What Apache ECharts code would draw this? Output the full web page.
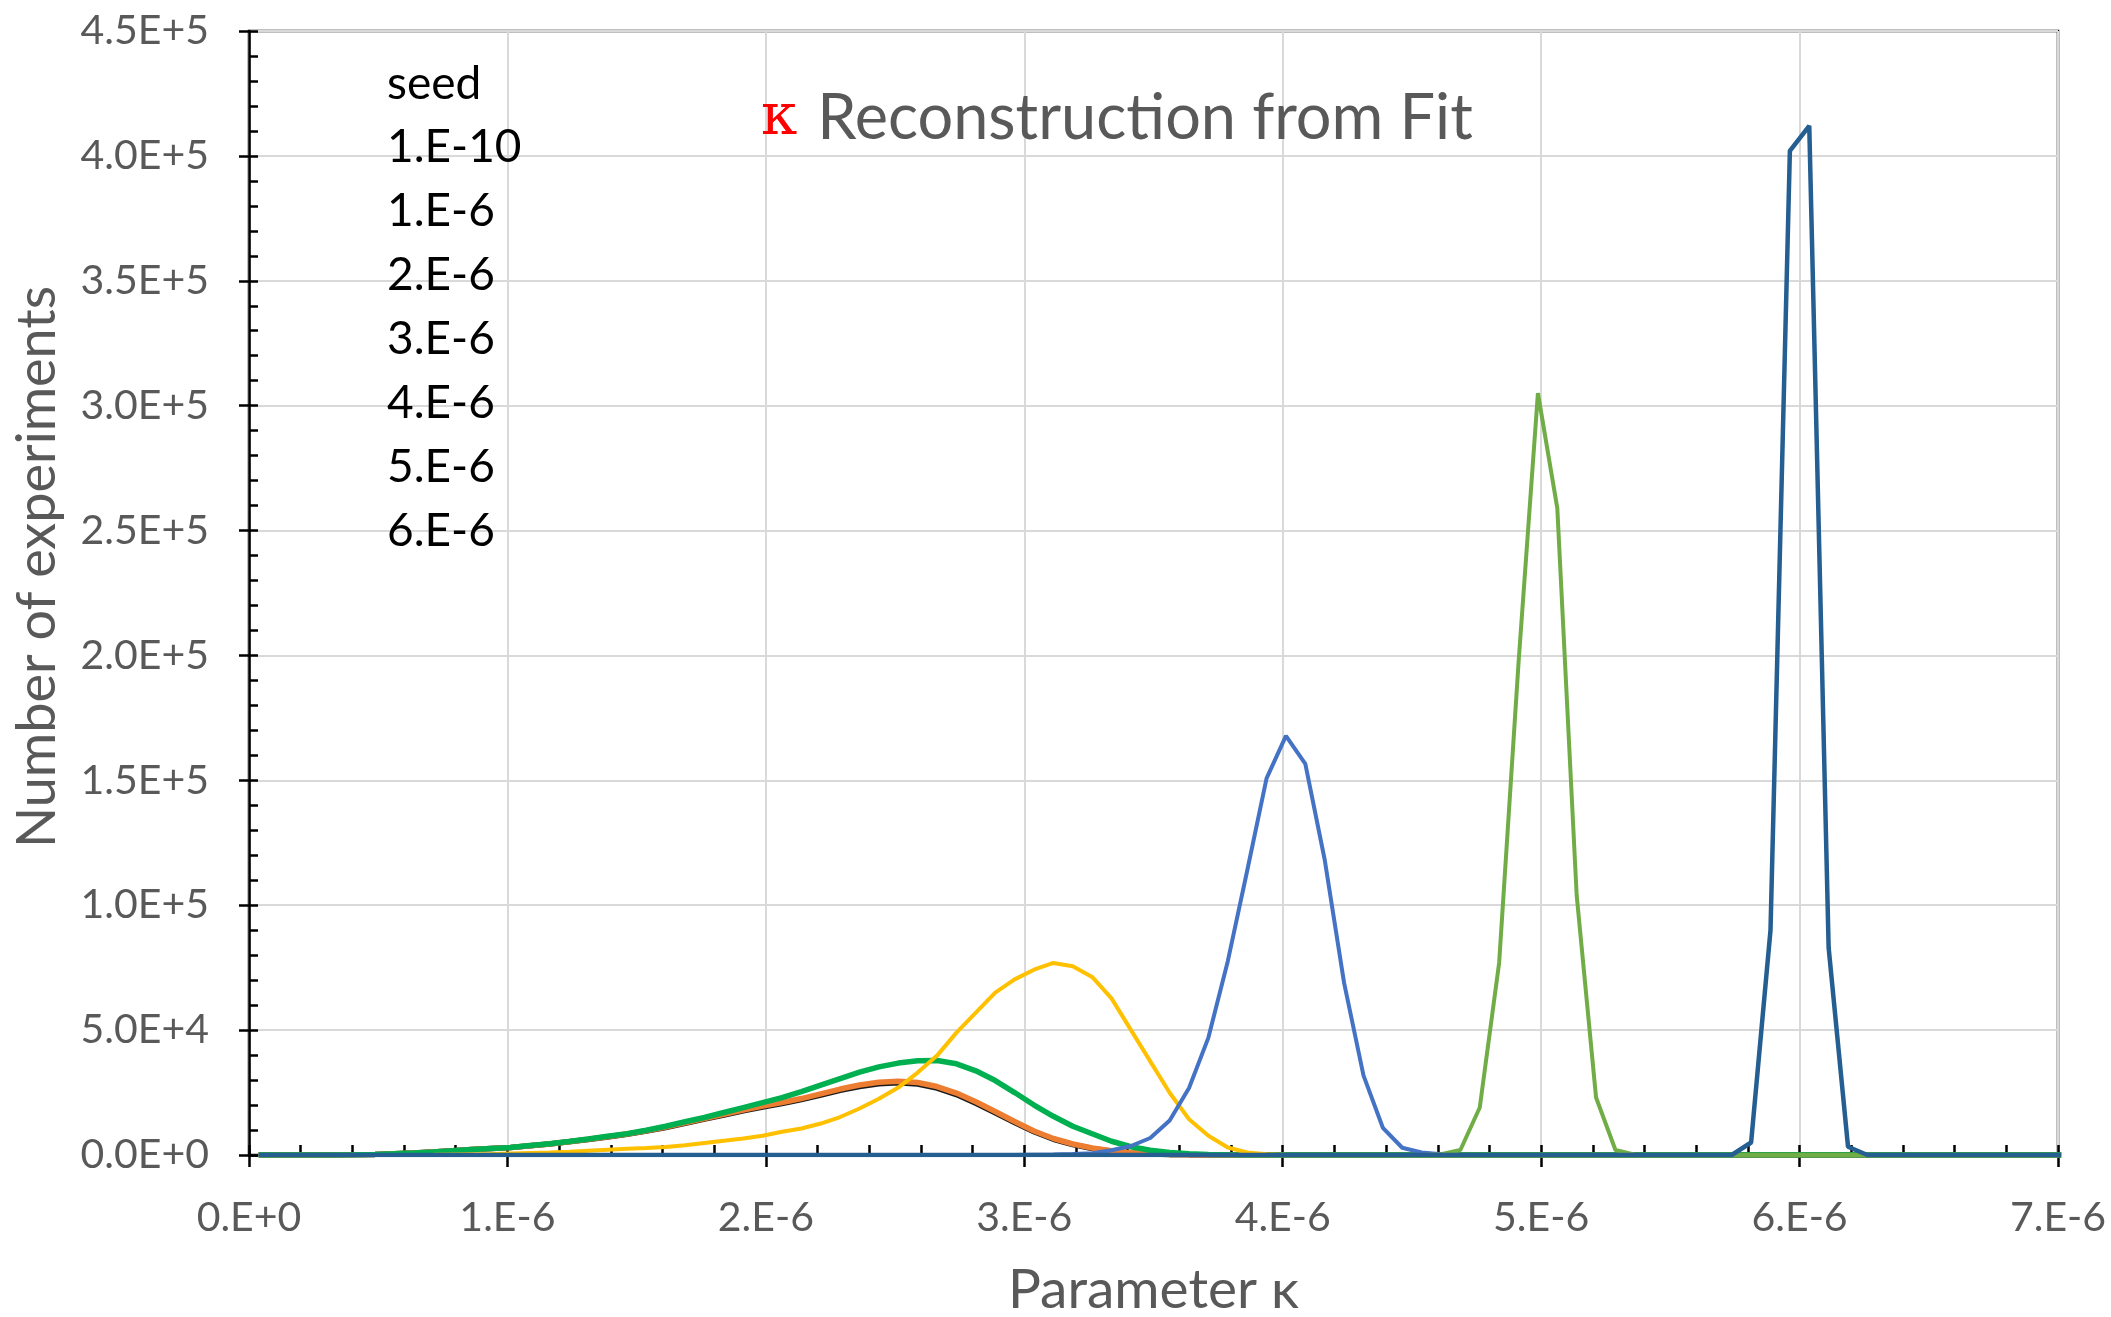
<!DOCTYPE html>
<html>
<head>
<meta charset="utf-8">
<script src="https://cdn.jsdelivr.net/npm/echarts@6/dist/echarts.min.js"></script>
<style>
  html, body { margin: 0; padding: 0; background: #ffffff; }
  #chart { width: 2111px; height: 1317px; }
</style>
</head>
<body>
<div id="chart"></div>
<script>
// Bin centres of parameter kappa, in units of 1E-6
const kappa = [
  0.0375, 0.1125, 0.1875, 0.2625, 0.3375, 0.4125, 0.4875, 0.5625, 0.6375, 0.7125,
  0.7875, 0.8625, 0.9375, 1.0125, 1.0875, 1.1625, 1.2375, 1.3125, 1.3875, 1.4625,
  1.5375, 1.6125, 1.6875, 1.7625, 1.8375, 1.9125, 1.9875, 2.0625, 2.1375, 2.2125,
  2.2875, 2.3625, 2.4375, 2.5125, 2.5875, 2.6625, 2.7375, 2.8125, 2.8875, 2.9625,
  3.0375, 3.1125, 3.1875, 3.2625, 3.3375, 3.4125, 3.4875, 3.5625, 3.6375, 3.7125,
  3.7875, 3.8625, 3.9375, 4.0125, 4.0875, 4.1625, 4.2375, 4.3125, 4.3875, 4.4625,
  4.5375, 4.6125, 4.6875, 4.7625, 4.8375, 4.9125, 4.9875, 5.0625, 5.1375, 5.2125,
  5.2875, 5.3625, 5.4375, 5.5125, 5.5875, 5.6625, 5.7375, 5.8125, 5.8875, 5.9625,
  6.0375, 6.1125, 6.1875, 6.2625, 6.3375, 6.4125, 6.4875, 6.5625, 6.6375, 6.7125,
  6.7875, 6.8625, 6.9375, 7.0125
];

const seedNames = ['1.E-10', '1.E-6', '2.E-6', '3.E-6', '4.E-6', '5.E-6', '6.E-6'];
const xTickLabels = ['0.E+0', '1.E-6', '2.E-6', '3.E-6', '4.E-6', '5.E-6', '6.E-6', '7.E-6'];
const yTickLabels = ['0.0E+0', '5.0E+4', '1.0E+5', '1.5E+5', '2.0E+5', '2.5E+5', '3.0E+5', '3.5E+5', '4.0E+5', '4.5E+5'];

// Number of experiments per bin, one array per seed (aligned with kappa)
const seed1e10 = [
  0, 0, 0, 0, 0, 100, 250, 500, 800, 1200,
  1700, 2200, 2600, 3000, 3700, 4400, 5300, 6200, 7200, 8300,
  9600, 11000, 12700, 14400, 16000, 17700, 19200, 20600, 22200, 24000,
  25900, 27400, 28500, 28900, 28400, 26800, 24200, 20700, 16900, 13000,
  9300, 6300, 4200, 2600, 1500, 800, 400, 150, 50, 0,
  0, 0, 0, 0, 0, 0, 0, 0, 0, 0,
  0, 0, 0, 0, 0, 0, 0, 0, 0, 0,
  0, 0, 0, 0, 0, 0, 0, 0, 0, 0,
  0, 0, 0, 0, 0, 0, 0, 0, 0, 0,
  0, 0, 0, 0
];
const seed1e6 = [
  0, 0, 0, 0, 0, 100, 250, 500, 800, 1200,
  1700, 2200, 2600, 3000, 3700, 4400, 5300, 6300, 7300, 8400,
  9700, 11200, 12900, 14600, 16300, 18000, 19600, 21000, 22600, 24500,
  26400, 28000, 29100, 29500, 29000, 27400, 24800, 21300, 17400, 13400,
  9600, 6600, 4400, 2800, 1700, 900, 450, 200, 80, 0,
  0, 0, 0, 0, 0, 0, 0, 0, 0, 0,
  0, 0, 0, 0, 0, 0, 0, 0, 0, 0,
  0, 0, 0, 0, 0, 0, 0, 0, 0, 0,
  0, 0, 0, 0, 0, 0, 0, 0, 0, 0,
  0, 0, 0, 0
];
const seed2e6 = [
  0, 0, 0, 0, 0, 100, 250, 500, 800, 1200,
  1700, 2200, 2600, 3000, 3800, 4500, 5400, 6400, 7500, 8500,
  9900, 11500, 13300, 15000, 17000, 19000, 21000, 23000, 25400, 28000,
  30600, 33200, 35300, 36800, 37700, 37800, 36500, 33700, 29800, 25000,
  20000, 15500, 11500, 8500, 5500, 3300, 1900, 1000, 500, 200,
  80, 0, 0, 0, 0, 0, 0, 0, 0, 0,
  0, 0, 0, 0, 0, 0, 0, 0, 0, 0,
  0, 0, 0, 0, 0, 0, 0, 0, 0, 0,
  0, 0, 0, 0, 0, 0, 0, 0, 0, 0,
  0, 0, 0, 0
];
const seed3e6 = [
  0, 0, 0, 0, 0, 0, 0, 0, 50, 100,
  200, 300, 400, 600, 800, 1000, 1300, 1700, 2100, 2500,
  2800, 3200, 3900, 4800, 5700, 6600, 7700, 9300, 10600, 12600,
  15200, 18600, 22500, 27000, 33000, 39800, 49000, 57000, 65000, 70300,
  74200, 76900, 75600, 71300, 62700, 50100, 37500, 24900, 14300, 7700,
  3000, 1000, 300, 50, 0, 0, 0, 0, 0, 0,
  0, 0, 0, 0, 0, 0, 0, 0, 0, 0,
  0, 0, 0, 0, 0, 0, 0, 0, 0, 0,
  0, 0, 0, 0, 0, 0, 0, 0, 0, 0,
  0, 0, 0, 0
];
const seed4e6 = [
  0, 0, 0, 0, 0, 0, 0, 0, 0, 0,
  0, 0, 0, 0, 0, 0, 0, 0, 0, 0,
  0, 0, 0, 0, 0, 0, 0, 0, 0, 0,
  0, 0, 0, 0, 0, 0, 0, 0, 0, 0,
  100, 200, 400, 700, 1900, 3600, 6800, 13800, 26800, 47000,
  77600, 113800, 150800, 167800, 156600, 118200, 68900, 31900, 10900, 2900,
  1000, 300, 0, 0, 0, 0, 0, 0, 0, 0,
  0, 0, 0, 0, 0, 0, 0, 0, 0, 0,
  0, 0, 0, 0, 0, 0, 0, 0, 0, 0,
  0, 0, 0, 0
];
const seed5e6 = [
  0, 0, 0, 0, 0, 0, 0, 0, 0, 0,
  0, 0, 0, 0, 0, 0, 0, 0, 0, 0,
  0, 0, 0, 0, 0, 0, 0, 0, 0, 0,
  0, 0, 0, 0, 0, 0, 0, 0, 0, 0,
  0, 0, 0, 0, 0, 0, 0, 0, 0, 0,
  0, 0, 0, 0, 0, 0, 0, 0, 0, 0,
  0, 300, 2000, 19000, 77000, 197000, 305000, 259000, 104000, 23000,
  2000, 100, 0, 0, 0, 0, 0, 0, 0, 0,
  0, 0, 0, 0, 0, 0, 0, 0, 0, 0,
  0, 0, 0, 0
];
const seed6e6 = [
  0, 0, 0, 0, 0, 0, 0, 0, 0, 0,
  0, 0, 0, 0, 0, 0, 0, 0, 0, 0,
  0, 0, 0, 0, 0, 0, 0, 0, 0, 0,
  0, 0, 0, 0, 0, 0, 0, 0, 0, 0,
  0, 0, 0, 0, 0, 0, 0, 0, 0, 0,
  0, 0, 0, 0, 0, 0, 0, 0, 0, 0,
  0, 0, 0, 0, 0, 0, 0, 0, 0, 0,
  0, 0, 0, 0, 0, 0, 0, 5000, 90000, 402000,
  412000, 83000, 3300, 0, 0, 0, 0, 0, 0, 0,
  0, 0, 0, 0
];

const seriesValues = [seed1e10, seed1e6, seed2e6, seed3e6, seed4e6, seed5e6, seed6e6];
const seriesColors = ['#1a1a1a', '#ED7D31', '#00B050', '#FFC000', '#4472C4', '#70AD47', '#255E91'];
const seriesWidths = [5.5, 5.5, 5.5, 4, 4, 4, 4.5];

const FONT = 'Lato, "Noto Sans", sans-serif';
const GREY = '#595959';

const chart = echarts.init(document.getElementById('chart'), null, { renderer: 'canvas' });

const option = {
  animation: false,
  backgroundColor: '#ffffff',
  title: [
    {
      text: '{k|κ}{t|Reconstruction from Fit}',
      left: 756,
      top: 82,
      textStyle: {
        fontWeight: 'normal',
        rich: {
          k: { fontFamily: '"DejaVu Serif", serif', fontSize: 58, fontWeight: 'normal', color: '#FF0000', padding: [0, 20, 0, 0] },
          t: { fontFamily: FONT, fontSize: 63, fontWeight: 'normal', color: GREY }
        }
      }
    },
    {
      text: 'seed',
      left: 382,
      top: 47,
      textStyle: { fontFamily: FONT, fontSize: 46, fontWeight: 'normal', color: '#000000', lineHeight: 64 }
    }
  ],
  legend: {
    orient: 'vertical',
    left: 376,
    top: 110,
    itemGap: 0,
    itemWidth: 1,
    itemHeight: 1,
    icon: 'rect',
    itemStyle: { opacity: 0 },
    selectedMode: false,
    data: seedNames,
    textStyle: { fontFamily: FONT, fontSize: 46, color: '#000000', lineHeight: 64 }
  },
  grid: {
    left: 249, right: 53, top: 31, bottom: 162,
    outerBoundsMode: 'none',
    containLabel: false,
    show: true, borderColor: '#000000', borderWidth: 2.5, backgroundColor: 'transparent'
  },
  xAxis: [
    {
      type: 'value', min: 0, max: 7, interval: 1, position: 'bottom',
      axisLine: { show: true, lineStyle: { color: '#000000', width: 2.5 } },
      axisTick: { show: true, inside: true, length: 10, lineStyle: { color: '#000000', width: 2.5 } },
      minorTick: { show: true, splitNumber: 5, length: 10, lineStyle: { color: '#000000', width: 2.5 } },
      splitLine: { show: true, lineStyle: { color: '#D9D9D9', width: 2 } },
      axisLabel: {
        margin: 42, color: GREY, fontFamily: FONT, fontSize: 41,
        formatter: function (v) { return xTickLabels[Math.round(v)]; }
      },
      name: 'Parameter κ', nameLocation: 'middle', nameGap: 108,
      nameTextStyle: { color: GREY, fontFamily: FONT, fontSize: 55 }
    },
    {
      type: 'value', min: 0, max: 7, interval: 1, position: 'bottom',
      axisLine: { show: false },
      axisTick: { show: true, inside: false, length: 12, lineStyle: { color: '#000000', width: 2.5 } },
      axisLabel: { show: false },
      splitLine: { show: false }
    }
  ],
  yAxis: [
    {
      type: 'value', min: 0, max: 450000, interval: 50000, position: 'left',
      axisLine: { show: true, lineStyle: { color: '#000000', width: 2.5 } },
      axisTick: { show: true, inside: true, length: 9, lineStyle: { color: '#000000', width: 2.5 } },
      minorTick: { show: true, splitNumber: 5, length: 9, lineStyle: { color: '#000000', width: 2.5 } },
      splitLine: { show: true, lineStyle: { color: '#D9D9D9', width: 2 } },
      axisLabel: {
        margin: 40, color: GREY, fontFamily: FONT, fontSize: 41,
        formatter: function (v) { return yTickLabels[Math.round(v / 50000)]; }
      },
      name: 'Number of experiments', nameLocation: 'middle', nameGap: 184,
      nameTextStyle: { color: GREY, fontFamily: FONT, fontSize: 54, padding: [0, 0, 0, 52] }
    },
    {
      type: 'value', min: 0, max: 450000, interval: 50000, position: 'left',
      axisLine: { show: false },
      axisTick: { show: true, inside: false, length: 10, lineStyle: { color: '#000000', width: 2.5 } },
      axisLabel: { show: false },
      splitLine: { show: false }
    }
  ],
  series: seedNames.map(function (name, s) {
    return {
      name: name,
      type: 'line',
      xAxisIndex: 0,
      yAxisIndex: 0,
      showSymbol: false,
      symbol: 'none',
      smooth: false,
      clip: true,
      color: seriesColors[s],
      lineStyle: { color: seriesColors[s], width: seriesWidths[s] },
      data: kappa.map(function (k, i) { return [k, seriesValues[s][i]]; })
    };
  })
};

chart.setOption(option);
</script>
</body>
</html>
